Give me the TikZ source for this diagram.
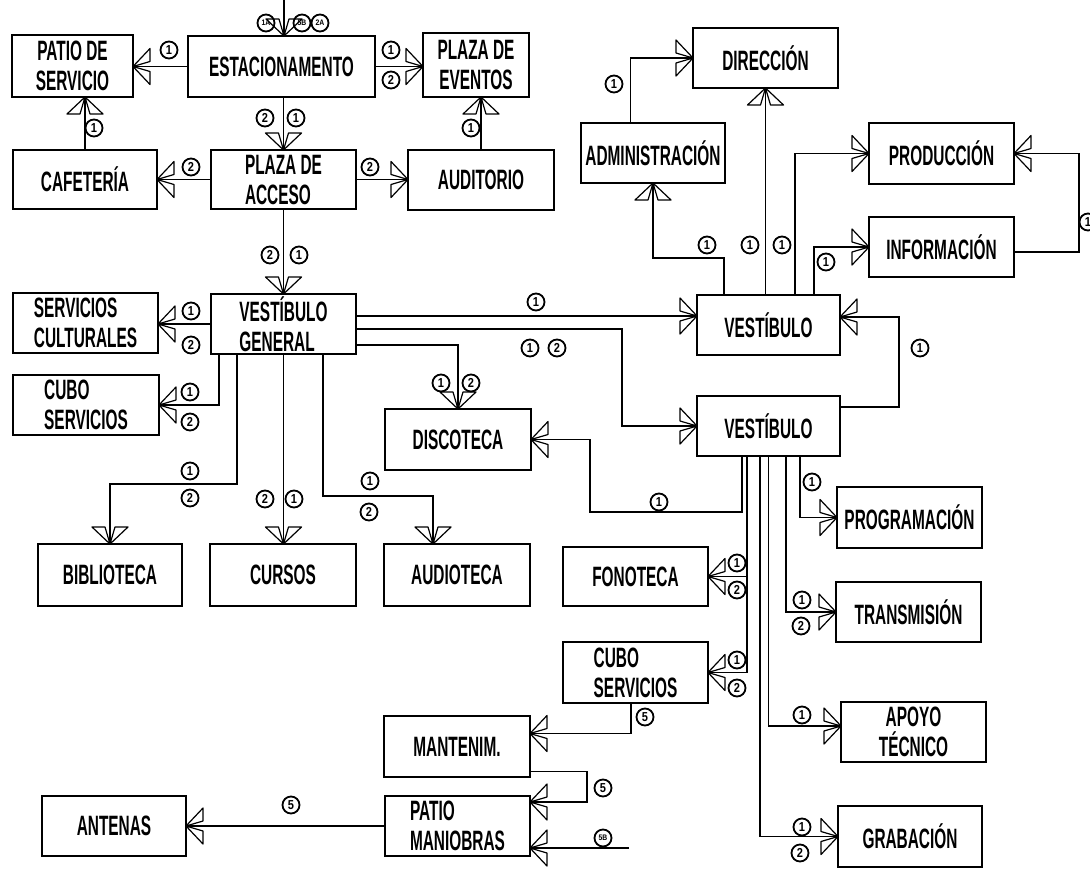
\documentclass[tikz,border=0pt]{standalone}
\usepackage{fontspec}
\setmainfont{Liberation Sans}[FakeStretch=0.55]
\newfontfamily\numfont{Liberation Sans}[FakeStretch=0.85]
\usetikzlibrary{arrows.meta,calc}
\pgfdeclarearrow{
  name=Fork,
  setup code={
    \pgfarrowssettipend{0pt}
    \pgfarrowssetlineend{0pt}
    \pgfarrowssetbackend{-18pt}
    \pgfarrowssetvisualbackend{-18pt}
    \pgfarrowshullpoint{0pt}{0pt}
    \pgfarrowsupperhullpoint{-18pt}{18pt}
  },
  drawing code={
    \pgfsetdash{}{0pt}
    \pgfsetlinewidth{1.2pt}
    \pgfsetroundjoin
    \pgfpathmoveto{\pgfpointorigin}
    \pgfpathlineto{\pgfpoint{-17pt}{18pt}}
    \pgfpathlineto{\pgfpoint{-17pt}{5pt}}
    \pgfpathclose
    \pgfpathmoveto{\pgfpointorigin}
    \pgfpathlineto{\pgfpoint{-17pt}{-18pt}}
    \pgfpathlineto{\pgfpoint{-17pt}{-5pt}}
    \pgfpathclose
    \pgfusepathqstroke
  }
}
\tikzset{
  box/.style={draw, line width=1.8pt, align=center, inner sep=1pt, outer sep=0pt,
    font=\bfseries\fontsize{28}{30}\selectfont},
  conn/.style={line width=1.3pt, -{Fork}},
  num/.style={circle, draw, line width=1.8pt, inner sep=0pt, minimum size=17pt,
    font=\numfont\bfseries\fontsize{13}{13}\selectfont},
  numsm/.style={num, font=\numfont\bfseries\fontsize{8}{8}\selectfont},
}
\newcommand\bx[7][]{\node[box, #1, minimum width={(#5)-(#3)}, minimum height={(#6)-(#4)}] (#2) at ({((#3)+(#5))/2},{((#4)+(#6))/2}) {#7};}
\begin{document}
\begin{tikzpicture}[x=1pt,y=-1pt]
\useasboundingbox (0,0) rectangle (1090,868);
% boxes
\bx{PDS}{12}{35}{133}{97}{PATIO DE\\SERVICIO}
\bx{ESTA}{188}{36}{375}{97}{ESTACIONAMENTO}
\bx{PDE}{423}{33}{529}{97}{PLAZA DE\\EVENTOS}
\bx{CAFE}{13}{150}{157}{209}{CAFETERÍA}
\bx[align=left]{PA}{211}{150}{356}{209}{PLAZA DE\\ACCESO}
\bx{AUD}{408}{150}{554}{210}{AUDITORIO}
\bx{DIR}{693}{28}{838}{88}{DIRECCIÓN}
\bx{ADM}{581}{123}{725}{183}{ADMINISTRACIÓN}
\bx{PROD}{869}{123}{1014}{184}{PRODUCCIÓN}
\bx{INFO}{869}{217}{1014}{277}{INFORMACIÓN}
\bx[align=left]{SC}{13}{293}{158}{353}{SERVICIOS\\CULTURALES}
\bx[align=left]{VG}{211}{294}{356}{354}{VESTÍBULO\\GENERAL}
\bx[align=left]{CUBA}{13}{375}{159}{435}{CUBO\\SERVICIOS}
\bx{DISC}{385}{409}{531}{470}{DISCOTECA}
\bx{VA}{697}{295}{840}{355}{VESTÍBULO}
\bx{VB}{697}{396}{840}{456}{VESTÍBULO}
\bx{BIB}{38}{544}{182}{606}{BIBLIOTECA}
\bx{CUR}{210}{544}{356}{606}{CURSOS}
\bx{AUDT}{384}{544}{530}{606}{AUDIOTECA}
\bx{PROG}{837}{487}{982}{548}{PROGRAMACIÓN}
\bx{FONO}{563}{547}{708}{606}{FONOTECA}
\bx{TRANS}{836}{582}{981}{642}{TRANSMISIÓN}
\bx[align=left]{CUBB}{563}{642}{708}{703}{CUBO\\SERVICIOS}
\bx{APOYO}{841}{702}{986}{762}{APOYO\\TÉCNICO}
\bx{MANT}{384}{716}{530}{777}{MANTENIM.}
\bx{ANT}{42}{796}{186}{856}{ANTENAS}
\bx[align=left]{PM}{385}{796}{530}{856}{PATIO\\MANIOBRAS}
\bx{GRAB}{838}{806}{982}{867}{GRABACIÓN}
% connectors
\coordinate (topin) at (284,0);
\draw[conn] (topin) -- (topin |- ESTA.north);
\draw[conn] (ESTA.west) -- (ESTA.west -| PDS.east);
\draw[conn] (ESTA.east) -- (ESTA.east -| PDE.west);
\draw[conn] (PA.north |- ESTA.south) -- (PA.north);
\draw[conn] (CAFE.north) -- (CAFE.north |- PDS.south);
\draw[conn] (AUD.north) -- (AUD.north |- PDE.south);
\draw[conn] (PA.west) -- (PA.west -| CAFE.east);
\draw[conn] (PA.east) -- (PA.east -| AUD.west);
\draw[conn] (PA.south) -- (PA.south |- VG.north);
\draw[conn] (VG.west) -- (VG.west -| SC.east);
\draw[conn] ([xshift=-64.5pt]VG.south) |- (CUBA.east);
\draw[conn] ([xshift=-46.5pt]VG.south) -- ++(0,130) -| (BIB.north);
\draw[conn] (VG.south) -- (VG.south |- CUR.north);
\draw[conn] ([xshift=39.5pt]VG.south) -- ++(0,142) -| ([xshift=-24pt]AUDT.north);
\path ([yshift=8pt]VG.east) coordinate (vg1)
      ([yshift=-5pt]VG.east) coordinate (vg2)
      ([yshift=-21pt]VG.east) coordinate (vg3);
\draw[conn] (vg1) -- (vg1 -| VA.west);
\draw[conn] (vg2) -- ++(266,0) |- (VB.west);
\draw[conn] (vg3) -| (DISC.north);
\draw[conn] ([yshift=19pt]VB.east) -- ++(59,0) |- ([yshift=8pt]VA.east);
\draw[conn] ([xshift=-26.5pt]VB.south) -- ++(0,56) -- ++(-152,0) |- (DISC.east);
\draw[conn] ([xshift=-21.5pt]VB.south) |- (FONO.east);
\draw[conn] ([xshift=-21.5pt]VB.south) |- (CUBB.east);
\draw[conn] ([xshift=-8.5pt]VB.south) |- (GRAB.west);
\draw[conn] (VB.south) |- ([yshift=6pt]APOYO.west);
\draw[conn] ([xshift=17.5pt]VB.south) |- (TRANS.west);
\draw[conn] ([xshift=31.5pt]VB.south) |- (PROG.west);
\draw[conn] (DIR.south |- VA.north) -- (DIR.south);
\draw[conn] ([xshift=-44.5pt]VA.north) -- ++(0,-37) -| (ADM.south);
\draw[conn] ([xshift=-22.5pt]ADM.north) |- (DIR.west);
\draw[conn] ([xshift=26.5pt]VA.north) |- (PROD.west);
\draw[conn] ([xshift=45.5pt]VA.north) |- (INFO.west);
\draw[conn] ([yshift=-5pt]INFO.east) -- ++(65,0) |- (PROD.east);
\draw[conn] ([xshift=-4.5pt]CUBB.south) |- ([yshift=13pt]MANT.east);
\draw[conn] ([yshift=-25pt]MANT.east) -- ++(57,0) |- ([yshift=24pt]PM.east);
\draw[conn] (PM.west) -- (PM.west -| ANT.east);
\coordinate (ext) at (629,848);
\draw[conn] (ext) -- (ext -| PM.east);
% labels
\node[numsm] (t1) at (266,23) {1A};
\node[numsm] (t2) at (302,23) {5B};
\node[numsm] (t3) at (320,23) {2A};
\node[num] (a1) at (169,50) {1};
\node[num] (a2) at (391,50) {1};
\node[num] (a3) at (391,80) {2};
\node[num] (a4) at (265,118) {2};
\node[num] (a5) at (296,118) {1};
\node[num] (a6) at (94,128) {1};
\node[num] (a7) at (471,128) {1};
\node[num] (a8) at (191,167) {2};
\node[num] (a9) at (370,167) {2};
\node[num] (b1) at (270,255) {2};
\node[num] (b2) at (299,255) {1};
\node[num] (b3) at (191,311) {1};
\node[num] (b4) at (191,345) {2};
\node[num] (b5) at (190,392) {1};
\node[num] (b6) at (190,422) {2};
\node[num] (b7) at (190,471) {1};
\node[num] (b8) at (190,498) {2};
\node[num] (b9) at (265,499) {2};
\node[num] (c1) at (294,499) {1};
\node[num] (c2) at (370,481) {1};
\node[num] (c3) at (369,512) {2};
\node[num] (c4) at (441,383) {1};
\node[num] (c5) at (471,383) {2};
\node[num] (c6) at (536,302) {1};
\node[num] (c7) at (530,348) {1};
\node[num] (c8) at (557,348) {2};
\node[num] (c9) at (920,348) {1};
\node[num] (d1) at (659,502) {1};
\node[num] (d2) at (707,245) {1};
\node[num] (d3) at (750,245) {1};
\node[num] (d4) at (782,245) {1};
\node[num] (d5) at (826,262) {1};
\node[num] (d6) at (614,84) {1};
\node[num] (d7) at (1088,222) {1};
\node[num] (d8) at (812,482) {1};
\node[num] (d9) at (802,600) {1};
\node[num] (e1) at (801,626) {2};
\node[num] (e2) at (802,715) {1};
\node[num] (e3) at (802,827) {1};
\node[num] (e4) at (800,853) {2};
\node[num] (e5) at (737,563) {1};
\node[num] (e6) at (737,590) {2};
\node[num] (e7) at (737,660) {1};
\node[num] (e8) at (737,688) {2};
\node[num] (f1) at (645,717) {5};
\node[num] (f2) at (603,788) {5};
\node[num] (f3) at (291,805) {5};
\node[numsm] (f4) at (603,838) {5B};
\end{tikzpicture}
\end{document}
